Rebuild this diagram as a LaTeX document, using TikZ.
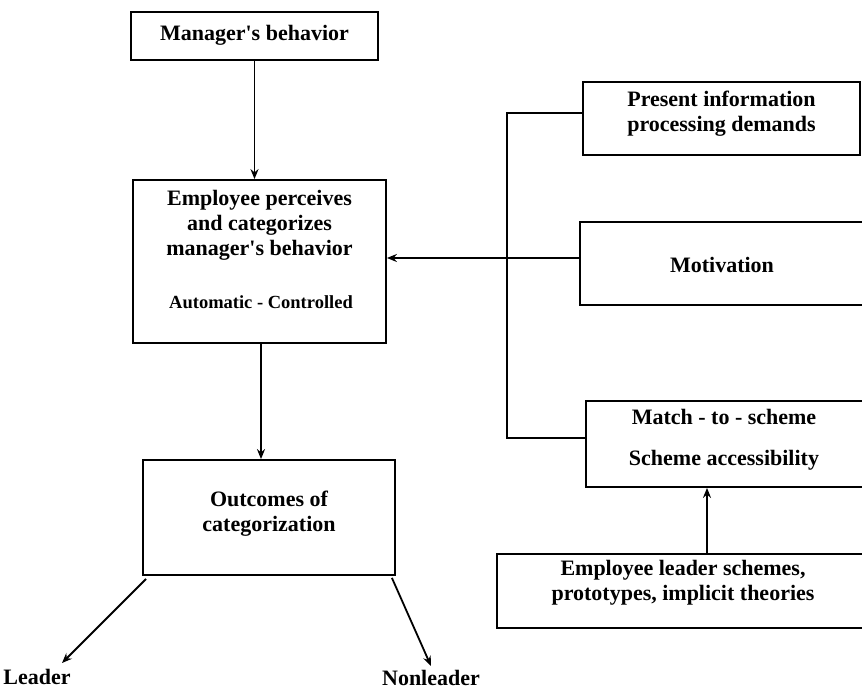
\documentclass[tikz,border=0pt]{standalone}
\usepackage{fontspec}
\setmainfont{Liberation Serif}
\usetikzlibrary{arrows.meta}
\begin{document}
\begin{tikzpicture}[x=1pt,y=-1pt,
  box/.style={draw,line width=1.8pt,inner sep=0pt},
  lbl/.style={font=\fontsize{22}{25}\selectfont\bfseries,align=center,inner sep=0pt},
  sml/.style={font=\fontsize{18.5}{21}\selectfont\bfseries,inner sep=0pt},
  conn/.style={line width=1.8pt},
  arr/.style={conn,-{Stealth[length=10pt,width=8pt]}}]
\useasboundingbox (0,0) rectangle (862,692);
\clip (0,0) rectangle (862,692);
% boxes
\node[box,minimum width=247pt,minimum height=48pt] (mgr) at (254.5,36) {};
\node[box,minimum width=253pt,minimum height=163pt] (emp) at (259.5,261.5) {};
\node[box,minimum width=252pt,minimum height=115pt] (out) at (269,517.5) {};
\node[box,minimum width=277pt,minimum height=73pt] (pres) at (721.5,118.5) {};
\node[box,minimum width=300pt,minimum height=83pt] (mot) at (730,263.5) {};
\node[box,minimum width=294pt,minimum height=86pt] (match) at (733,444) {};
\node[box,minimum width=383pt,minimum height=74pt] (el) at (688.5,591) {};
% texts
\node[lbl] (tmgr) at (254.5,35) {Manager\textquotesingle s behavior};
\node[lbl] (temp) at (259.5,225) {Employee perceives\\and categorizes\\manager\textquotesingle s behavior};
\node[sml] (tauto) at (261,302) {Automatic - Controlled};
\node[lbl] (tout) at (269,513.5) {Outcomes of\\categorization};
\node[lbl] (tpres) at (721.5,113.5) {Present information\\processing demands};
\node[lbl] (tmot) at (722,265) {Motivation};
\node[lbl] (tmatch) at (724,417) {Match - to - scheme};
\node[lbl] (tacc) at (724,460) {Scheme accessibility};
\node[lbl] (tel) at (683,582.5) {Employee leader schemes,\\prototypes, implicit theories};
\node[lbl] (leader) at (37,677) {Leader};
\node[lbl] (nonleader) at (431,678) {Nonleader};
% connectors
\draw[arr] (mgr.south) -- (mgr.south |- emp.north);
\coordinate (c1) at (261,0);
\draw[arr] (emp.south -| c1) -- (out.north -| c1);
\coordinate (j1) at (507,113);
\coordinate (j2) at (507,438);
\draw[conn] (pres.west |- j1) -- (j1) -- (j2) -- (match.west |- j2);
\coordinate (m1) at (0,258);
\draw[arr] (mot.west |- m1) -- (emp.east |- m1);
\coordinate (c2) at (707,0);
\draw[arr] (el.north -| c2) -- (match.south -| c2);
\coordinate (lend) at (62,663);
\coordinate (nend) at (431,666);
\draw[arr] ([shift={(4,3)}]out.south west) -- (lend);
\draw[arr] ([shift={(-4,2)}]out.south east) -- (nend);
\end{tikzpicture}
\end{document}
